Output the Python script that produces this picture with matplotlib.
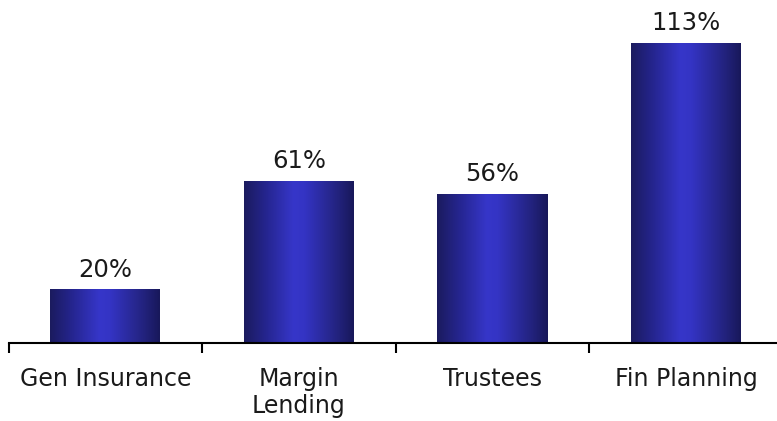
import matplotlib
matplotlib.use("Agg")
import matplotlib.pyplot as plt
import numpy as np
from matplotlib.colors import LinearSegmentedColormap

categories = ["Gen Insurance", "Margin\nLending", "Trustees", "Fin Planning"]
values = [20, 61, 56, 113]
labels = ["20%", "61%", "56%", "113%"]

W, H = 777, 421
fig = plt.figure(figsize=(W / 100, H / 100), dpi=100)
left_px, cat_w = 8.7, 193.5
base_px = 343
ax = fig.add_axes([left_px / W, (H - base_px) / H, 4 * cat_w / W, base_px / H])

x = np.arange(len(categories))
bars = ax.bar(x, values, width=110 / cat_w, color="none", edgecolor="none")

cmap = LinearSegmentedColormap.from_list(
    "g", [(0, "#1b1b5e"), (0.2, "#25258f"), (0.45, "#3636c9"), (0.55, "#3434c4"), (0.85, "#23237f"), (1, "#18185a")]
)
grad = np.linspace(0, 1, 256).reshape(1, -1)
for b in bars:
    x0, w, h = b.get_x(), b.get_width(), b.get_height()
    ax.imshow(grad, cmap=cmap, aspect="auto", extent=[x0, x0 + w, 0, h], zorder=2)

for b, lab in zip(bars, labels):
    ax.annotate(lab, (b.get_x() + b.get_width() / 2, b.get_height()), xytext=(0, 6),
                textcoords="offset points", ha="center", va="bottom", fontsize=17.5, color="#1a1a1a")

ax.set_xlim(-0.5, len(categories) - 0.5)
ax.set_ylim(0, base_px / ((base_px - 43.3) / 113))
ax.set_xticks(np.arange(len(categories) + 1) - 0.5)
ax.set_xticklabels([])
ax.set_xticks(x, minor=True)
ax.set_xticklabels(categories, minor=True, fontsize=17, color="#1a1a1a", linespacing=1.2)
ax.tick_params(axis="x", which="major", direction="out", length=7, width=1.5, color="black")
ax.tick_params(axis="x", which="minor", length=0, pad=17)
ax.set_yticks([])
for s in ["top", "right", "left"]:
    ax.spines[s].set_visible(False)
ax.spines["bottom"].set_linewidth(1.5)
ax.set_facecolor("none")

fig.savefig("out.png", dpi=100)
